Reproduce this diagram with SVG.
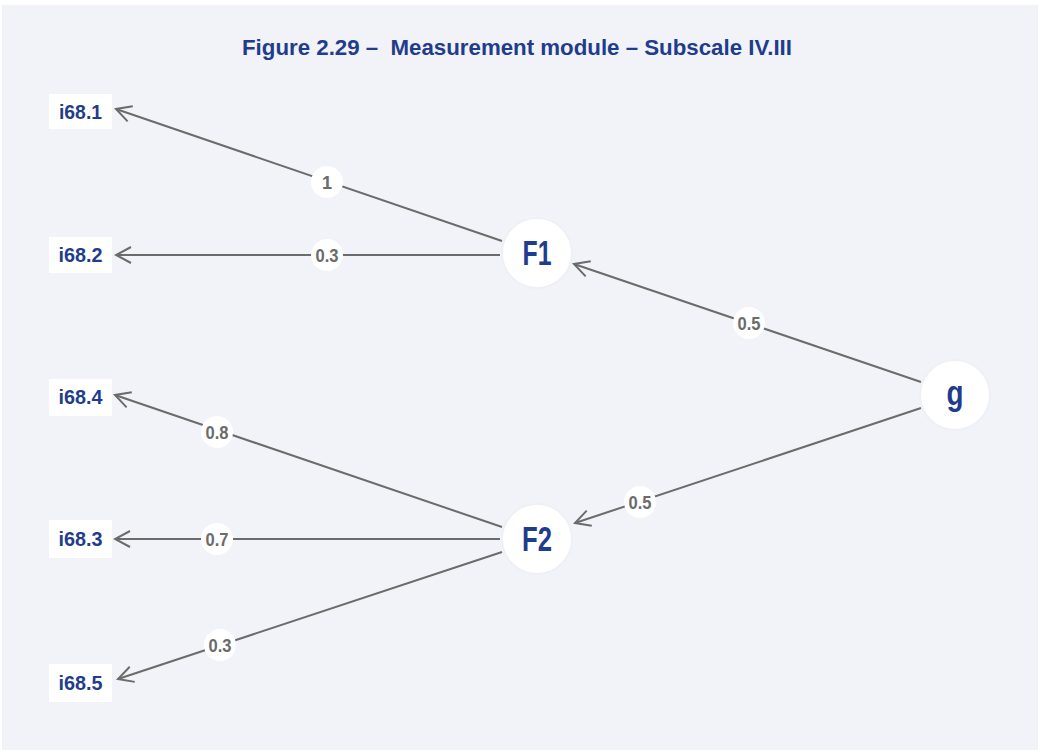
<svg xmlns="http://www.w3.org/2000/svg" width="1040" height="750" viewBox="0 0 1040 750">
<style>
.bg{fill:#f2f3f8}
.box{fill:#ffffff}
.circ{fill:#ffffff;stroke:#eef0f6;stroke-width:2}
.ntxt{font-family:"Liberation Sans",Arial,sans-serif;font-weight:bold;fill:#1f3d8c;text-anchor:middle}
.edge{stroke:#6b6b6b;stroke-width:2;fill:none;marker-end:url(#arr)}
.lbl{fill:#ffffff}
.ltxt{font-family:"Liberation Sans",Arial,sans-serif;font-weight:bold;font-size:18px;fill:#6b6b6b;text-anchor:middle}
.title{font-family:"Liberation Sans",Arial,sans-serif;font-weight:bold;font-size:22px;fill:#1f3d8c;text-anchor:middle}
</style>
<defs>
<marker id="arr" viewBox="-17 -10 19 20" refX="0" refY="0" markerWidth="19" markerHeight="20" markerUnits="userSpaceOnUse" orient="auto">
<path d="M-15,-8 L0,0 L-15,8" fill="none" stroke="#6b6b6b" stroke-width="2"/>
</marker>
</defs>
<rect x="0" y="0" width="1040" height="750" fill="#ffffff"/>
<rect class="bg" x="2" y="5" width="1036" height="745"/>
<text class="title" x="517" y="55" textLength="550" lengthAdjust="spacingAndGlyphs">Figure 2.29 –&#160; Measurement module – Subscale IV.III</text>
<g id="connectors">
<line class="edge" x1="502" y1="241" x2="116" y2="109"/>
<line class="edge" x1="500" y1="255" x2="116" y2="255"/>
<line class="edge" x1="921" y1="382" x2="574" y2="264"/>
<line class="edge" x1="921" y1="408" x2="575" y2="523"/>
<line class="edge" x1="502" y1="527" x2="115" y2="395"/>
<line class="edge" x1="500" y1="539" x2="115" y2="539"/>
<line class="edge" x1="502" y1="552" x2="118" y2="679"/>
<g id="labels">
<circle class="lbl" cx="327" cy="182" r="16"/><text class="ltxt" x="327" y="189">1</text>
<circle class="lbl" cx="327" cy="255" r="16"/><text class="ltxt" x="327" y="262" textLength="23" lengthAdjust="spacingAndGlyphs">0.3</text>
<circle class="lbl" cx="749" cy="323" r="16"/><text class="ltxt" x="749" y="330" textLength="23" lengthAdjust="spacingAndGlyphs">0.5</text>
<circle class="lbl" cx="640" cy="502" r="16"/><text class="ltxt" x="640" y="509" textLength="23" lengthAdjust="spacingAndGlyphs">0.5</text>
<circle class="lbl" cx="217" cy="432" r="16"/><text class="ltxt" x="217" y="439" textLength="23" lengthAdjust="spacingAndGlyphs">0.8</text>
<circle class="lbl" cx="217" cy="539" r="16"/><text class="ltxt" x="217" y="546" textLength="23" lengthAdjust="spacingAndGlyphs">0.7</text>
<circle class="lbl" cx="220" cy="645" r="16"/><text class="ltxt" x="220" y="652" textLength="23" lengthAdjust="spacingAndGlyphs">0.3</text>
</g>
</g>
<g id="i68_1"><rect class="box" x="49" y="94" width="63" height="35"/><text class="ntxt" x="80.5" y="119" font-size="20" textLength="43" lengthAdjust="spacingAndGlyphs">i68.1</text></g>
<g id="i68_2"><rect class="box" x="49" y="237" width="63" height="36"/><text class="ntxt" x="80.5" y="262" font-size="20" textLength="44" lengthAdjust="spacingAndGlyphs">i68.2</text></g>
<g id="i68_4"><rect class="box" x="49" y="379" width="63" height="37"/><text class="ntxt" x="80.5" y="404" font-size="20" textLength="44" lengthAdjust="spacingAndGlyphs">i68.4</text></g>
<g id="i68_3"><rect class="box" x="49" y="520" width="63" height="38"/><text class="ntxt" x="80.5" y="546" font-size="20" textLength="44" lengthAdjust="spacingAndGlyphs">i68.3</text></g>
<g id="i68_5"><rect class="box" x="49" y="664" width="63" height="38"/><text class="ntxt" x="80.5" y="690" font-size="20" textLength="44" lengthAdjust="spacingAndGlyphs">i68.5</text></g>
<g id="F1"><circle class="circ" cx="537" cy="253" r="35"/><text class="ntxt" x="537" y="265" font-size="35" textLength="29" lengthAdjust="spacingAndGlyphs">F1</text></g>
<g id="F2"><circle class="circ" cx="537" cy="539" r="35"/><text class="ntxt" x="537" y="551" font-size="35" textLength="30" lengthAdjust="spacingAndGlyphs">F2</text></g>
<g id="g"><circle class="circ" cx="955" cy="395" r="35"/><text class="ntxt" x="955" y="405" font-size="35" textLength="17" lengthAdjust="spacingAndGlyphs">g</text></g>
</svg>
